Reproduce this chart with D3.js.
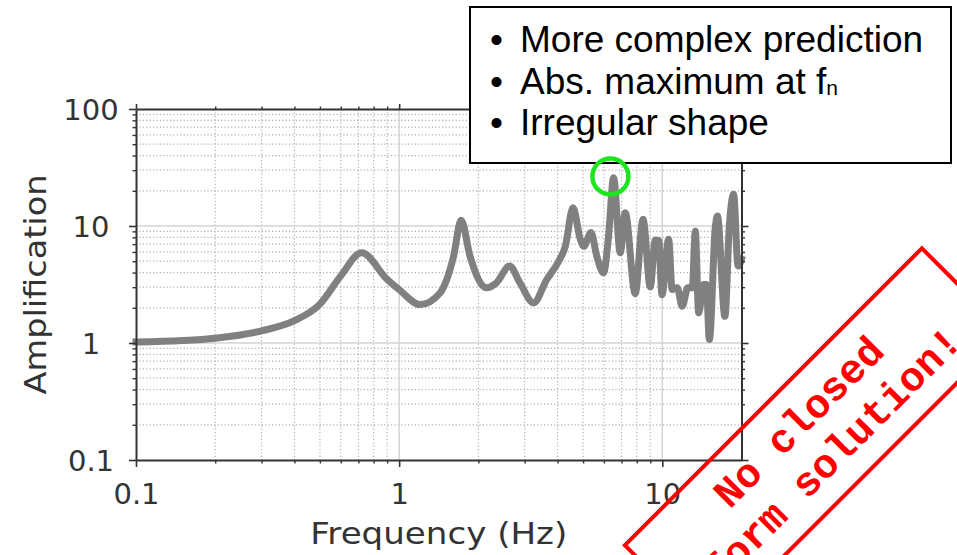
<!DOCTYPE html>
<html><head><meta charset="utf-8">
<script src="https://cdn.jsdelivr.net/npm/d3@7"></script>
<style>body{margin:0;background:#fff} svg{display:block}</style>
</head><body><svg id="c" width="957" height="555"></svg>
<script>
const freqHz = [0.1, 0.15, 0.2, 0.3, 0.4, 0.5, 0.6, 0.72, 0.9, 1.0, 1.2, 1.43, 1.61, 1.72, 1.86, 2.15, 2.34, 2.63, 2.88, 3.24, 3.64, 4.04, 4.28, 4.58, 4.88, 5.03, 5.36, 5.64, 5.98, 6.25, 6.53, 6.92, 7.23, 7.89, 8.45, 9.0, 9.41, 9.7, 9.97, 10.57, 10.9, 11.4, 11.9, 12.5, 13.0, 13.35, 13.75, 14.35, 14.7, 15.1, 15.9, 16.2, 17.3, 17.98, 18.67, 19.4, 20];
const amplification = [1.02, 1.05, 1.1, 1.27, 1.55, 2.15, 3.75, 5.9, 3.5, 2.86, 2.13, 2.68, 5.5, 11.2, 5.5, 2.96, 3.26, 4.54, 3.26, 2.2, 3.49, 5.0, 6.7, 14.3, 7.7, 6.7, 8.8, 5.5, 3.98, 8.2, 25.9, 5.9, 13.0, 2.64, 11.4, 3.02, 7.6, 7.5, 2.59, 7.7, 2.86, 2.96, 2.06, 2.96, 2.96, 9.0, 1.81, 3.16, 3.16, 1.07, 9.7, 12.2, 1.69, 10.0, 18.7, 4.54, 5.2];
const xMajorTicks = [0.1, 1, 10];
const xTickLabels = ["0.1", "1", "10"];
const yMajorTicks = [0.1, 1, 10, 100];
const yTickLabels = ["0.1", "1", "10", "100"];
const xAxisTitle = "Frequency (Hz)";
const yAxisTitle = "Amplification";
const noteLines = ["More complex prediction", "Abs. maximum at f", "Irregular shape"];
const noteSubscripts = ["", "n", ""];
const stampLines = ["No closed", "form solution!"];
const peakMarkerFreq = [6.35];
const peakMarkerAmp = [26.5];

const svg = d3.select("#c");
const L = 136, R = 741.5, T = 109, B = 460;
const x = d3.scaleLog().domain([0.1, 20]).range([L, R]);
const y = d3.scaleLog().domain([0.1, 100]).range([B, T]);

const isMajor = v => Math.abs(Math.log10(v) - Math.round(Math.log10(v))) < 1e-9;
const xMinor = x.ticks().filter(v => !isMajor(v) && v < 20 - 1e-9);
const yMinor = y.ticks().filter(v => !isMajor(v));

// grid
const grid = svg.append("g");
grid.selectAll(".gxm").data(xMinor).join("line")
  .attr("x1", d => x(d)).attr("x2", d => x(d)).attr("y1", T).attr("y2", B)
  .attr("stroke", "#b0b0b0").attr("stroke-width", 1.2).attr("stroke-dasharray", "1.2,2.2");
grid.selectAll(".gym").data(yMinor).join("line")
  .attr("y1", d => y(d)).attr("y2", d => y(d)).attr("x1", L).attr("x2", R)
  .attr("stroke", "#b0b0b0").attr("stroke-width", 1.2).attr("stroke-dasharray", "1.2,2.2");
grid.selectAll(".gxM").data(xMajorTicks.filter(v => v > 0.1)).join("line")
  .attr("x1", d => x(d)).attr("x2", d => x(d)).attr("y1", T).attr("y2", B)
  .attr("stroke", "#d4d4d4").attr("stroke-width", 1.5);
grid.selectAll(".gyM").data(yMajorTicks.filter(v => v > 0.1 && v < 100)).join("line")
  .attr("y1", d => y(d)).attr("y2", d => y(d)).attr("x1", L).attr("x2", R)
  .attr("stroke", "#d4d4d4").attr("stroke-width", 1.5);

// curve
const pts = freqHz.map((f, i) => [f, amplification[i]]);
svg.append("path").datum(pts)
  .attr("d", d3.line().x(d => x(d[0])).y(d => y(d[1])).curve(d3.curveMonotoneX))
  .attr("fill", "none").attr("stroke", "#808080").attr("stroke-width", 7)
  .attr("stroke-linejoin", "round").attr("stroke-linecap", "square");

// axes
function styleAxis(g, hideText) {
  g.select(".domain").attr("stroke", "#333").attr("stroke-width", 2);
  g.selectAll(".tick line").attr("stroke", "#333").attr("stroke-width", 1.6);
  if (hideText) g.selectAll(".tick text").remove();
  g.selectAll(".tick text").attr("fill", "#333")
    .style("font-family", "'DejaVu Sans', sans-serif").style("font-size", "29px");
}
function addAxis(axisFn, scale, pos, majors, minors, majorSize, minorSize, labels, transform) {
  const gMin = svg.append("g").attr("transform", transform)
    .call(axisFn(scale).tickValues(minors).tickSize(minorSize).tickSizeOuter(0).tickFormat(""));
  gMin.select(".domain").remove();
  gMin.selectAll(".tick line").attr("stroke", "#333").attr("stroke-width", 1.4);
  gMin.selectAll(".tick text").remove();
  const gMaj = svg.append("g").attr("transform", transform)
    .call(axisFn(scale).tickValues(majors).tickSize(majorSize).tickSizeOuter(0)
      .tickFormat((d, i) => labels ? labels[i] : ""));
  styleAxis(gMaj, !labels);
  return gMaj;
}
const gb = addAxis(d3.axisBottom, x, B, xMajorTicks, xMinor, 7, 3.5, xTickLabels, `translate(0,${B})`);
gb.selectAll(".tick text").attr("y", 23).attr("dy", "0.71em");
addAxis(d3.axisTop, x, T, xMajorTicks, xMinor, 5, 2.5, null, `translate(0,${T})`);
const gl = addAxis(d3.axisLeft, y, L, yMajorTicks, yMinor, 7, 3.5, yTickLabels, `translate(${L},0)`);
gl.selectAll(".tick text").attr("x", 91 - L).attr("text-anchor", "middle").attr("dy", "0.36em");
addAxis(d3.axisRight, y, R, yMajorTicks, yMinor, 7, 3.5, null, `translate(${R},0)`);

// axis titles
svg.append("text").attr("x", (L + R) / 2).attr("y", 544).attr("text-anchor", "middle")
  .attr("fill", "#333").style("font-family", "'DejaVu Sans', sans-serif").style("font-size", "31px")
  .attr("textLength", 257).attr("lengthAdjust", "spacingAndGlyphs").text(xAxisTitle);
svg.append("text").attr("transform", `translate(46,${(T + B) / 2}) rotate(-90)`).attr("text-anchor", "middle")
  .attr("fill", "#333").style("font-family", "'DejaVu Sans', sans-serif").style("font-size", "31px")
  .attr("textLength", 220).attr("lengthAdjust", "spacingAndGlyphs").text(yAxisTitle);

// note box
svg.append("rect").attr("x", 470).attr("y", 7).attr("width", 481).attr("height", 156)
  .attr("fill", "#fff").attr("stroke", "#000").attr("stroke-width", 2);
const baselines = [52, 94, 135];
noteLines.forEach((t, i) => {
  svg.append("text").attr("x", 490).attr("y", baselines[i])
    .style("font-family", "'Liberation Sans', Arial, sans-serif").style("font-size", "37px").text("\u2022");
  const tx = svg.append("text").attr("x", 520).attr("y", baselines[i])
    .style("font-family", "'Liberation Sans', Arial, sans-serif").style("font-size", "37px").attr("fill", "#000");
  tx.append("tspan").text(t);
  if (noteSubscripts[i]) tx.append("tspan").style("font-size", "21px").attr("dy", 1).text(noteSubscripts[i]);
});

// peak marker
svg.selectAll(".pk").data(peakMarkerFreq).join("circle")
  .attr("cx", d => x(d)).attr("cy", (d, i) => y(peakMarkerAmp[i])).attr("r", 18)
  .attr("fill", "none").attr("stroke", "#1ee61e").attr("stroke-width", 4.5);

// stamp
const st = svg.append("g").attr("transform", "translate(815.8,439.2) rotate(-45)");
st.append("rect").attr("x", -210).attr("y", -60).attr("width", 420).attr("height", 120)
  .attr("fill", "none").attr("stroke", "#ff0000").attr("stroke-width", 4);
const stampBase = [-11, 37];
stampLines.forEach((t, i) => {
  st.append("text").attr("x", 0).attr("y", stampBase[i]).attr("text-anchor", "middle")
    .attr("fill", "#ff0000").style("font-family", "'Liberation Mono', 'Courier New', monospace")
    .style("font-weight", "bold").style("font-size", "41px").text(t);
});
</script></body></html>
